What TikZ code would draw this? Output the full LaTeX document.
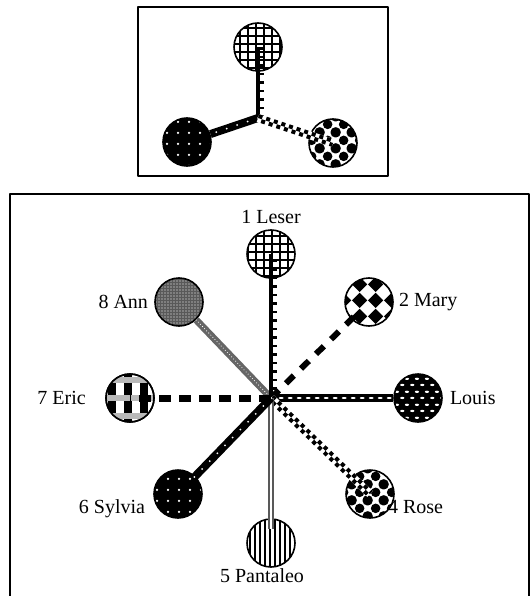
\documentclass[tikz,border=0pt]{standalone}
\usepackage{fontspec}
\setmainfont{Liberation Serif}
\usetikzlibrary{positioning, patterns, patterns.meta}

\pgfdeclarepatternformonly{diamondcheck}{\pgfqpoint{0pt}{0pt}}{\pgfqpoint{16pt}{16pt}}{\pgfqpoint{16pt}{16pt}}{%
	\pgfpathmoveto{\pgfqpoint{8pt}{0pt}}%
	\pgfpathlineto{\pgfqpoint{16pt}{8pt}}%
	\pgfpathlineto{\pgfqpoint{8pt}{16pt}}%
	\pgfpathlineto{\pgfqpoint{0pt}{8pt}}%
	\pgfpathclose
	\pgfusepath{fill}}
\pgfdeclarepatternformonly{ovalbricks}{\pgfqpoint{0pt}{0pt}}{\pgfqpoint{10pt}{13pt}}{\pgfqpoint{10pt}{13pt}}{%
	\pgfpathellipse{\pgfqpoint{2.5pt}{3.25pt}}{\pgfqpoint{2.3pt}{0pt}}{\pgfqpoint{0pt}{1.2pt}}%
	\pgfpathellipse{\pgfqpoint{7.5pt}{9.75pt}}{\pgfqpoint{2.3pt}{0pt}}{\pgfqpoint{0pt}{1.2pt}}%
	\pgfusepath{fill}}
\pgfdeclarepatternformonly{ballcheck}{\pgfqpoint{0pt}{0pt}}{\pgfqpoint{16pt}{16pt}}{\pgfqpoint{16pt}{16pt}}{%
	\pgfpathcircle{\pgfqpoint{8pt}{8pt}}{5pt}%
	\pgfpathcircle{\pgfqpoint{0pt}{0pt}}{5pt}%
	\pgfpathcircle{\pgfqpoint{16pt}{0pt}}{5pt}%
	\pgfpathcircle{\pgfqpoint{0pt}{16pt}}{5pt}%
	\pgfpathcircle{\pgfqpoint{16pt}{16pt}}{5pt}%
	\pgfusepath{fill}}

\begin{document}
\begin{tikzpicture}[x=1pt, y=-1pt, line join=round,
			person/.style={circle, draw, line width=1.6pt, minimum size=48pt, inner sep=0pt},
			who/.style={inner sep=0pt, font=\fontsize{20}{24}\selectfont},
			leserfill/.style={pattern={Hatch[distance=8pt, line width=2pt]}},
			maryfill/.style={pattern=diamondcheck},
			louisfill/.style={preaction={fill=black}, pattern=ovalbricks, pattern color=white},
			rosefill/.style={pattern=ballcheck},
			pantaleofill/.style={pattern={Lines[angle=90, distance=5pt, line width=2pt]}},
			sylviafill/.style={preaction={fill=black}, pattern={Dots[distance=10.5pt, radius=1.3pt]}, pattern color=white},
			ericfill/.style={pattern={Lines[angle=90, distance=16pt, line width=8pt]},
				postaction={pattern={Lines[distance=18pt, line width=6pt]}, pattern color=gray!55, draw}},
			annfill/.style={preaction={fill=black!65}, pattern={Dots[distance=3pt, radius=0.6pt]}, pattern color=white},
			ladder/.style={line width=3.5pt},
			ladderticks/.style={line width=7pt, dash pattern=on 2.5pt off 6pt, transform canvas={xshift=2.5pt}},
			chain/.style={line width=8pt, postaction={draw=white, line width=2.6pt, line cap=round, dash pattern=on 2.4pt off 6.6pt}},
			spotted/.style={line width=8pt, postaction={draw=white, line width=2pt, line cap=round, dash pattern=on 0pt off 11pt}},
			dashy/.style={line width=7pt, dash pattern=on 12pt off 8pt},
			checkbase/.style={white, line width=8pt},
			checkhalf/.style={line width=4pt, dash pattern=on 4pt off 4pt},
			twin/.style={draw=black!65, double=white, line width=2pt, double distance=2.5pt},
			hazy/.style={draw=black!60, line width=7pt, postaction={draw=white, line width=1.1pt, line cap=round, dash pattern=on 0pt off 3pt}}]

			\useasboundingbox (0,0) rectangle (531,596);

			% frames
			\draw[line width=1.5pt] (138,7) rectangle (388,176);
			\draw[line width=1.5pt] (10,612) -- (10,194) -- (529,194) -- (529,612);

			% small star
			\coordinate (hubTop) at (258,118);
			\node[person, leserfill] (leserTop) at (258,47) {};
			\node[person, sylviafill] (sylviaTop) at (187,142) {};
			\node[person, rosefill] (roseTop) at (333,143) {};

			\draw[ladder] (hubTop) -- (leserTop.center);
			\draw[ladderticks] (hubTop) -- (leserTop.center);
			\draw[spotted] (hubTop) -- (sylviaTop);
			\draw[checkbase] (hubTop) -- (roseTop.center);
			\draw[checkhalf, transform canvas={shift={(0.63pt,1.9pt)}}] (hubTop) -- (roseTop.center);
			\draw[checkhalf, dash phase=4pt, transform canvas={shift={(-0.63pt,-1.9pt)}}] (hubTop) -- (roseTop.center);

			% big star
			\coordinate (hub) at (271,398);
			\node[person, leserfill] (leser) at (271,254) {};
			\node[person, maryfill] (mary) at (369,302) {};
			\node[person, louisfill] (louis) at (418,398) {};
			\node[person, rosefill] (rose) at (370,494) {};
			\node[person, pantaleofill] (pantaleo) at (271,543) {};
			\node[person, sylviafill] (sylvia) at (178,494) {};
			\node[person, ericfill] (eric) at (130,398) {};
			\node[person, annfill] (ann) at (179,302) {};

			\node[who, above=5pt of leser] (leserName) {1 Leser};
			\node[who, right=5pt of mary] (maryName) {2 Mary};
			\node[who, right=7pt of louis] (louisName) {Louis};
			\node[who, anchor=west] at ([xshift=-7pt, yshift=-13pt]rose.east) (roseName) {4 Rose};
			\node[who, below=0.5pt of pantaleo, xshift=-9pt] (pantaleoName) {5 Pantaleo};
			\node[who, anchor=east] at ([xshift=-8pt, yshift=-15pt]sylvia.west) (sylviaName) {6 Sylvia};
			\node[who, left=16pt of eric] (ericName) {7 Eric};
			\node[who, left=6pt of ann] (annName) {8 Ann};

			\draw[hazy] (hub) -- (ann);
			\draw[ladder] (hub) -- (leser.center);
			\draw[ladderticks] (hub) -- (leser.center);
			\draw[dashy, line width=6pt, dash pattern=on 11pt off 10pt, shorten >=12pt] (hub) -- (mary.center);
			\draw[chain] (hub) -- (louis);
			\draw[checkbase] (hub) -- (rose.center);
			\draw[checkhalf, transform canvas={shift={(1.39pt,1.43pt)}}] (hub) -- (rose.center);
			\draw[checkhalf, dash phase=4pt, transform canvas={shift={(-1.39pt,-1.43pt)}}] (hub) -- (rose.center);
			\draw[twin, shorten >=14pt] (hub) -- (pantaleo.center);
			\draw[spotted, shorten >=-4pt] (hub) -- (sylvia);
			\draw[dashy] (hub) -- (eric.center);

		\end{tikzpicture}
\end{document}
